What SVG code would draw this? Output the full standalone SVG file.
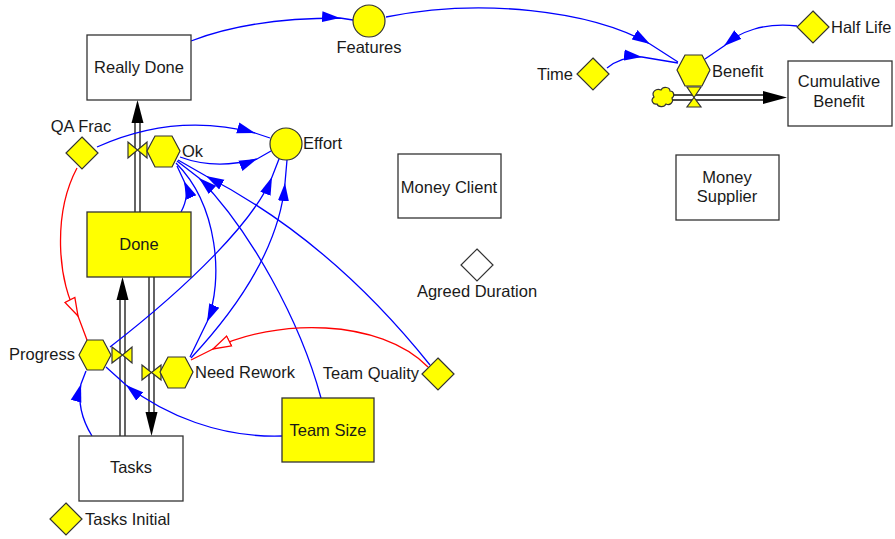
<svg xmlns="http://www.w3.org/2000/svg" width="895" height="539" viewBox="0 0 895 539">
<style>
text{font-family:"Liberation Sans",Arial,sans-serif;font-size:16.5px;fill:#1a1a1a}
.box{fill:#fff;stroke:#333;stroke-width:1.3}
.ybox{fill:#ffff00;stroke:#333;stroke-width:1.3}
.y{fill:#ffff00;stroke:#333;stroke-width:1.2}
.w{fill:#fff;stroke:#333;stroke-width:1.2}
.link{fill:none;stroke:#0000ff;stroke-width:1.3;marker-mid:url(#ab)}
.red{fill:none;stroke:#ff0000;stroke-width:1.3;marker-mid:url(#ar)}
.pipe{stroke:#111;stroke-width:1.3;fill:none}
.head{fill:#000}
.mid{text-anchor:middle}
.end{text-anchor:end}
</style>
<defs>
<marker id="ab" markerUnits="userSpaceOnUse" markerWidth="19" markerHeight="12" refX="18" refY="6" orient="auto" viewBox="0 0 19 12">
<path d="M0,0.5 L18,6 L0,11.5 z" fill="#0000ff"/>
</marker>
<marker id="ar" markerUnits="userSpaceOnUse" markerWidth="21" markerHeight="14" refX="19" refY="7" orient="auto" viewBox="0 0 21 14">
<path d="M1,1.5 L19,7 L1,12.5 z" fill="#fff" stroke="#ff0000" stroke-width="1.3"/>
</marker>
</defs>

<g id="connectors">
<!-- flows -->
<line class="pipe" x1="135" y1="212" x2="135" y2="122"/>
<line class="pipe" x1="140" y1="212" x2="140" y2="122"/>
<polygon class="head" points="131.5,123 143.5,123 137.5,100"/>
<line class="pipe" x1="120" y1="436" x2="120" y2="299"/>
<line class="pipe" x1="125" y1="436" x2="125" y2="299"/>
<polygon class="head" points="116.5,300 128.5,300 122.5,277"/>
<line class="pipe" x1="149" y1="277" x2="149" y2="413"/>
<line class="pipe" x1="154" y1="277" x2="154" y2="413"/>
<polygon class="head" points="145.5,412 157.5,412 151.5,436"/>
<line class="pipe" x1="672" y1="95" x2="764" y2="95"/>
<line class="pipe" x1="672" y1="100" x2="764" y2="100"/>
<polygon class="head" points="763,91 763,104 787,97.5"/>
<!-- links -->
<path class="link" d="M191 41 Q250 18 340 18 L353 20"/>
<path class="link" d="M386 17 C480 -2 590 10 650 44 L678 62"/>
<path class="link" d="M607 68 Q622 56 642 57 L678 63"/>
<path class="link" d="M797 26 C765 22 738 32 724 46 L705 59"/>
<path class="link" d="M97 147 Q175 112 255 133 L270 138"/>
<path class="link" d="M180 157 Q215 170 257 159 L271 151"/>
<path class="link" d="M181 212 Q190 195 184 181 L177 166"/>
<path class="link" d="M176 163 C218 205 224 280 207 322 L190 357"/>
<path class="link" d="M191 358 C245 300 280 240 285 183 L287 160"/>
<path class="link" d="M110 347 C190 285 255 220 272 177 L279 159"/>
<path class="link" d="M321 398 C300 320 250 230 199 178 L177 161"/>
<path class="link" d="M430 365 Q330 240 206 176 L178 160"/>
<path class="link" d="M282 436 C220 438 165 415 126 385 L106 367"/>
<path class="link" d="M92 436 Q76 410 81 384 L86 371"/>
<path class="red" d="M428 367 C380 318 275 318 213 349 L191 360"/>
<path class="red" d="M77 168 C52 215 58 285 78 316 L87 340"/>
</g>

<g id="really-done"><rect class="box" x="87" y="35" width="104" height="65"/><text class="mid" x="139" y="73">Really Done</text></g>
<g id="done"><rect class="ybox" x="87" y="212" width="104" height="65"/><text class="mid" x="139" y="250">Done</text></g>
<g id="tasks"><rect class="box" x="79" y="436" width="104" height="65"/><text class="mid" x="131" y="473">Tasks</text></g>
<g id="team-size"><rect class="ybox" x="282" y="398" width="92" height="64"/><text class="mid" x="328" y="436">Team Size</text></g>
<g id="money-client"><rect class="box" x="398" y="154" width="103" height="64"/><text class="mid" x="449" y="193">Money Client</text></g>
<g id="money-supplier"><rect class="box" x="676" y="155" width="103" height="65"/><text class="mid" x="727" y="183">Money</text><text class="mid" x="727" y="202">Supplier</text></g>
<g id="cumulative-benefit"><rect class="box" x="788" y="61" width="104" height="65"/><text class="mid" x="839" y="87">Cumulative</text><text class="mid" x="839" y="107">Benefit</text></g>

<g id="qa-frac"><polygon class="y" points="82,137 98,153 82,169 66,153"/><text class="mid" x="81" y="132">QA Frac</text></g>
<g id="tasks-initial"><polygon class="y" points="66,503 82,519 66,535 50,519"/><text x="85" y="525">Tasks Initial</text></g>
<g id="time"><polygon class="y" points="593,58 609,74 593,90 577,74"/><text class="end" x="573" y="80">Time</text></g>
<g id="half-life"><polygon class="y" points="813,11 829,27 813,43 797,27"/><text x="831" y="33">Half Life</text></g>
<g id="team-quality"><polygon class="y" points="438,358 454,374 438,390 422,374"/><text class="end" x="419" y="379">Team Quality</text></g>
<g id="agreed-duration"><polygon class="w" points="477,249 493,265 477,281 461,265"/><text class="mid" x="477" y="297">Agreed Duration</text></g>

<g id="effort"><circle class="y" cx="286" cy="144" r="16"/><text x="303" y="149">Effort</text></g>
<g id="features"><circle class="y" cx="369" cy="21" r="16"/><text class="mid" x="369" y="53">Features</text></g>

<g id="ok">
<polygon class="y" points="128,142 128,158 137.5,150"/><polygon class="y" points="147,142 147,158 137.5,150"/>
<polygon class="y" points="147,151 155,136 172,136 180,151 172,167 155,167"/>
<text x="182" y="157">Ok</text>
</g>
<g id="progress">
<polygon class="y" points="79,355 87,340 103,340 111,355 103,370 87,370"/>
<polygon class="y" points="112,347 112,363 122.5,355"/><polygon class="y" points="132,347 132,363 122.5,355"/>
<text class="end" x="75" y="360">Progress</text>
</g>
<g id="need-rework">
<polygon class="y" points="142,365 142,380 151.5,372.5"/><polygon class="y" points="161,365 161,380 151.5,372.5"/>
<polygon class="y" points="160,372 168,357 185,357 193,372 185,388 168,388"/>
<text x="195" y="378">Need Rework</text>
</g>
<g id="benefit">
<polygon class="y" points="677,70 685,55 702,55 710,70 702,86 685,86"/>
<polygon class="y" points="687,87 701,87 694,97.5"/><polygon class="y" points="687,107 701,107 694,97.5"/>
<text x="712" y="77">Benefit</text>
</g>
<g id="cloud">
<path class="y" d="M654,97 c-3,-5 2,-9 7,-7 c2,-4 9,-3 9,1 c4,0 5,5 2,7 c2,4 -2,8 -6,6 c-2,4 -8,3 -9,0 c-4,1 -7,-4 -3,-7 z"/>
</g>
</svg>
